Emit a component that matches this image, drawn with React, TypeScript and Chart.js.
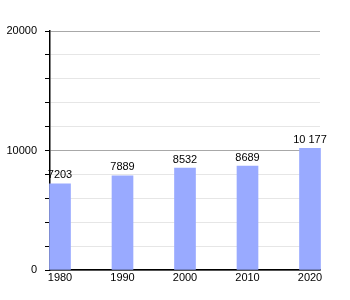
import React, { useEffect, useRef } from "react";
import { Chart, registerables } from "chart.js";

Chart.register(...registerables);

const years = [1980, 1990, 2000, 2010, 2020];
const population = [7203, 7889, 8532, 8689, 10177];
const valueLabels = ["7203", "7889", "8532", "8689", "10 177"];
const yTickLabels: Record<number, string> = { 0: "0", 10000: "10000", 20000: "20000" };

const FONT = "'Liberation Sans', Arial, sans-serif";

const valueLabelPlugin = {
  id: "valueLabels",
  afterDatasetsDraw(chart: any) {
    const ctx = chart.ctx;
    const meta = chart.getDatasetMeta(0);
    ctx.save();
    ctx.font = `11px ${FONT}`;
    ctx.fillStyle = "#000";
    ctx.textAlign = "center";
    ctx.textBaseline = "bottom";
    meta.data.forEach((bar: any, i: number) => {
      ctx.fillText(valueLabels[i], bar.x, bar.y - 3);
    });
    ctx.restore();
  },
};

export default function App() {
  const ref = useRef<HTMLCanvasElement>(null);
  useEffect(() => {
    if (!ref.current) return;
    const chart = new Chart(ref.current, {
      type: "bar",
      data: {
        datasets: [
          {
            data: years.map((y, i) => ({ x: y, y: population[i] })),
            backgroundColor: "#99aaff",
            barThickness: 21,
            clip: false as any,
          },
        ],
      },
      plugins: [valueLabelPlugin],
      options: {
        animation: false,
        responsive: false,
        maintainAspectRatio: false,
        layout: { padding: { top: 31, right: 30, left: 0, bottom: 0 } },
        plugins: { legend: { display: false }, tooltip: { enabled: false } },
        scales: {
          x: {
            type: "linear",
            min: 1978.4,
            max: 2021.6,
            offset: false,
            afterBuildTicks: (scale: any) => {
              scale.ticks = years.map((v) => ({ value: v }));
            },
            afterFit: (scale: any) => {
              scale.height = 30;
            },
            grid: { display: false, drawTicks: false },
            border: { display: true, color: "#000", width: 1.5 },
            ticks: {
              autoSkip: false,
              maxRotation: 0,
              padding: 1,
              color: "#000",
              font: { family: FONT, size: 11 },
              callback: (v: any) => String(v),
            },
          },
          y: {
            min: 0,
            max: 20000,
            afterBuildTicks: (scale: any) => {
              const t = [];
              for (let v = 0; v <= 20000; v += 2000) t.push({ value: v });
              scale.ticks = t;
            },
            afterFit: (scale: any) => {
              scale.width = 50;
            },
            grid: {
              color: (c: any) =>
                c.tick && c.tick.value % 10000 === 0 ? "#a8a8a8" : "#e6e6e6",
              tickColor: "#000",
              tickLength: 5,
              drawTicks: true,
            },
            border: { display: true, color: "#000", width: 1.5 },
            ticks: {
              padding: 8,
              color: "#000",
              autoSkip: false,
              font: { family: FONT, size: 11 },
              callback: (v: any) => yTickLabels[v] ?? "",
            },
          },
        },
      },
    });
    return () => chart.destroy();
  }, []);
  return (
    <div style={{ position: "fixed", left: 0, top: 0, width: 350, height: 300, background: "#fff" }}>
      <canvas ref={ref} width={350} height={300} style={{ width: 350, height: 300 }} />
    </div>
  );
}
